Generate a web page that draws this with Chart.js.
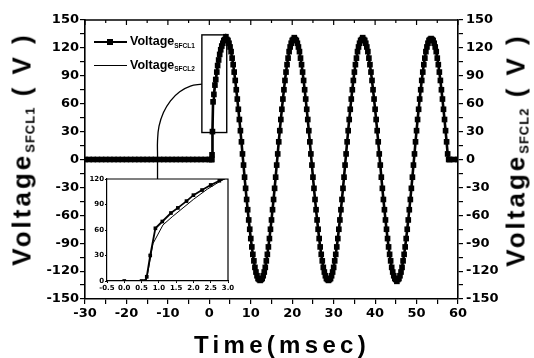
<!DOCTYPE html>
<html>
<head>
<meta charset="utf-8">
<script src="https://cdn.jsdelivr.net/npm/chart.js@4.4.1/dist/chart.umd.min.js"></script>
<style>
html,body{margin:0;padding:0;background:#fff;}
#wrap{position:relative;width:534px;height:358px;overflow:hidden;background:#fff;font-family:"Liberation Sans",Arial,sans-serif;color:#000;}
canvas{position:absolute;display:block;}
#main{left:0;top:0;}
#inset{left:84px;top:170px;}
.rt{position:absolute;white-space:nowrap;font-weight:bold;font-size:26px;letter-spacing:3px;line-height:26px;transform:translate(-50%,-50%) rotate(-90deg);}
.rt .sub{font-size:13px;letter-spacing:1px;position:relative;top:4px;}
#xt{position:absolute;left:282px;top:333px;transform:translateX(-50%);white-space:nowrap;font-weight:bold;font-size:24px;letter-spacing:4.3px;line-height:24px;}
.lg{position:absolute;left:94px;width:120px;height:16px;}
.lg .ln{position:absolute;left:0;width:33px;background:#000;}
.lg .mk{position:absolute;left:13px;width:6px;height:6px;background:#000;}
.lg .tx{position:absolute;left:36px;white-space:nowrap;font-weight:bold;font-size:12.5px;line-height:12.5px;}
.lg .tx span{font-size:6.5px;position:relative;top:2.5px;}
</style>
</head>
<body>
<div id="wrap">
  <canvas id="main" width="534" height="358"></canvas>
  <canvas id="inset" width="152" height="124"></canvas>
  <div class="lg" style="top:34px"><div class="ln" style="top:7px;height:2px"></div><div class="mk" style="top:5px"></div><div class="tx" style="top:1.4px">Voltage<span>SFCL1</span></div></div>
  <div class="lg" style="top:57px"><div class="ln" style="top:7.5px;height:1px"></div><div class="tx" style="top:1.9px">Voltage<span>SFCL2</span></div></div>
  <div class="rt" style="left:24px;top:149px">Voltage<span class="sub">SFCL1</span> ( V )</div>
  <div class="rt" style="left:518px;top:150px">Voltage<span class="sub">SFCL2</span> ( V )</div>
  <div id="xt">Time(msec)</div>
</div>
<script>
// ---------- data ----------
const timeSFCL1 = [
  -30,-29,-28,-27,-26,-25,-24,-23,-22,-21,-20,-19,-18,-17,-16,-15,-14,-13,-12,-11,-10,-9,-8,-7,-6,-5,-4,-3,-2,-1,0,0.5,0.6,
  0.65,0.75,0.9,1.1,1.35,1.55,1.8,2,2.25,2.5,2.75,3,3.25,3.5,3.75,
  4,4.25,4.5,4.75,5,5.25,5.5,5.75,6,6.25,6.5,6.75,7,7.25,7.5,7.75,
  8,8.25,8.5,8.75,9,9.25,9.5,9.75,10,10.25,10.5,10.75,11,11.25,11.5,11.75,
  12,12.25,12.5,12.75,13,13.25,13.5,13.75,14,14.25,14.5,14.75,15,15.25,15.5,15.75,
  16,16.25,16.5,16.75,17,17.25,17.5,17.75,18,18.25,18.5,18.75,19,19.25,19.5,19.75,
  20,20.25,20.5,20.75,21,21.25,21.5,21.75,22,22.25,22.5,22.75,23,23.25,23.5,23.75,
  24,24.25,24.5,24.75,25,25.25,25.5,25.75,26,26.25,26.5,26.75,27,27.25,27.5,27.75,
  28,28.25,28.5,28.75,29,29.25,29.5,29.75,30,30.25,30.5,30.75,31,31.25,31.5,31.75,
  32,32.25,32.5,32.75,33,33.25,33.5,33.75,34,34.25,34.5,34.75,35,35.25,35.5,35.75,
  36,36.25,36.5,36.75,37,37.25,37.5,37.75,38,38.25,38.5,38.75,39,39.25,39.5,39.75,
  40,40.25,40.5,40.75,41,41.25,41.5,41.75,42,42.25,42.5,42.75,43,43.25,43.5,43.75,
  44,44.25,44.5,44.75,45,45.25,45.5,45.75,46,46.25,46.5,46.75,47,47.25,47.5,47.75,
  48,48.25,48.5,48.75,49,49.25,49.5,49.75,50,50.25,50.5,50.75,51,51.25,51.5,51.75,
  52,52.25,52.5,52.75,53,53.25,53.5,53.75,54,54.25,54.5,54.75,55,55.25,55.5,55.75,
  56,56.25,56.5,56.75,57,57.25,57.5,57.75,
  58,59,60
];
const voltageSFCL1 = [
  0,0,0,0,0,0,0,0,0,0,0,0,0,0,0,0,0,0,0,0,0,0,0,0,0,0,0,0,0,0,0,0,0,
  5,30,62,70,80,86,94,101,107,113,118,122,125,128,129,
  132,129,128,125,121,116,109,102,94,85,75,65,54,43,31,19,6,-6,-19,-31,-43,-54,-65,-75,-85,-94,-102,-109,-116,-121,-125,-128,-129,-130,
  -129,-128,-125,-121,-116,-109,-102,-94,-85,-75,-65,-54,-43,-31,-19,-6,6,19,31,43,54,65,75,85,94,102,109,116,121,125,128,129,
  131,129,128,125,121,116,109,102,94,85,75,65,54,43,31,19,6,-6,-19,-31,-43,-54,-65,-75,-85,-94,-102,-109,-116,-121,-125,-128,-129,-130,
  -129,-128,-125,-121,-116,-109,-102,-94,-85,-75,-65,-54,-43,-31,-19,-6,6,19,31,43,54,65,75,85,94,102,109,116,121,125,128,129,
  131,129,128,125,121,116,109,102,94,85,75,65,54,43,31,19,6,-6,-19,-31,-43,-54,-65,-75,-85,-94,-102,-109,-116,-121,-125,-128,-129,-131,
  -129,-128,-125,-121,-116,-109,-102,-94,-85,-75,-65,-54,-43,-31,-19,-6,6,19,31,43,54,65,75,85,94,102,109,116,121,125,128,129,
  130,129,128,125,121,116,109,102,94,85,75,65,54,43,31,19,6,
  0,
  0,0,0
];
const timeSFCL2 = [-30,0.6,0.65,0.83,1.12,1.4,1.7,2,2.4,2.8,3,4,
  5,6,7,8,9,10,11,12,13,14,15,16,17,18,19,20,21,22,23,24,25,26,27,28,29,30,
  31,32,33,34,35,36,37,38,39,40,41,42,43,44,45,46,47,48,49,50,51,52,53,54,55,56,57,
  57.6,58,60];
const voltageSFCL2 = [0,0,3,44,66,76,86,96,108,118,122,131,
  121,94,54,6,-43,-85,-116,-129,-125,-102,-65,-19,31,75,109,128,128,109,75,31,-19,-65,-102,-125,-129,-116,
  -85,-43,6,54,94,121,131,121,94,54,6,-43,-85,-116,-129,-125,-102,-65,-19,31,75,109,128,128,109,75,31,
  2,0,0];

// zoom box (data space) and the curved connector to the inset
const zoomBoxTime = [-1.8, 4.2];
const zoomBoxVolt = [29, 134];
const connectorTime = [-1.8,-4.57,-7.15,-9.37,-11.07,-12.14,-12.5,-12.5,-12.5];
const connectorVolt = [81,78.9,72.8,63.1,50.5,35.8,20,5,-21];

// tick values / labels
const xTickValues = [-30,-25,-20,-15,-10,-5,0,5,10,15,20,25,30,35,40,45,50,55,60];
const xTickLabels = [-30,-20,-10,0,10,20,30,40,50,60];
const yTickValues = [-150,-135,-120,-105,-90,-75,-60,-45,-30,-15,0,15,30,45,60,75,90,105,120,135,150];
const yTickLabels = [-150,-120,-90,-60,-30,0,30,60,90,120,150];
const insetXTicks = [-0.5,0,0.5,1,1.5,2,2.5,3];
const insetXLabels = ['-0.5','0.0','0.5','1.0','1.5','2.0','2.5','3.0'];
const insetYTicks = [0,30,60,90,120];
const insetYLabels = ['0','30','60','90','120'];

// ---------- charts ----------
const TICKFONT = '"DejaVu Sans", sans-serif';
const pts = (ts, vs) => ts.map((t, i) => ({x: t, y: vs[i]}));
const setTicks = vals => s => { s.ticks = vals.map(v => ({value: v})); };

const mainDecor = {
  id: 'mainDecor',
  beforeDatasetsDraw(chart) {
    const {ctx, scales: {x, y}} = chart;
    ctx.save();
    ctx.strokeStyle = '#000';
    ctx.lineWidth = 1.4;
    const x0 = x.getPixelForValue(zoomBoxTime[0]), x1 = x.getPixelForValue(zoomBoxTime[1]);
    const y0 = y.getPixelForValue(zoomBoxVolt[0]), y1 = y.getPixelForValue(zoomBoxVolt[1]);
    ctx.strokeRect(x0, y1, x1 - x0, y0 - y1);
    ctx.restore();
  },
  afterDraw(chart) {
    const {ctx, chartArea: a, scales: {x}} = chart;
    ctx.save();
    ctx.strokeStyle = '#000';
    ctx.lineWidth = 1.6;
    ctx.beginPath(); ctx.moveTo(a.left, a.top); ctx.lineTo(a.right, a.top); ctx.stroke();
    ctx.lineWidth = 1.2;
    xTickValues.forEach(v => {
      const px = x.getPixelForValue(v);
      ctx.beginPath(); ctx.moveTo(px, a.top); ctx.lineTo(px, a.top + (xTickLabels.includes(v) ? 5 : 3)); ctx.stroke();
    });
    ctx.restore();
  }
};

const axisCommon = {
  grid: {drawOnChartArea: false, color: '#000', tickLength: 5, lineWidth: 1.2},
  border: {color: '#000', width: 1.6}
};

new Chart(document.getElementById('main'), {
  type: 'line',
  data: {datasets: [
    {label: 'Voltage SFCL1', data: pts(timeSFCL1, voltageSFCL1), yAxisID: 'y',
     borderColor: '#000', backgroundColor: '#000', borderWidth: 2.6, tension: 0,
     pointStyle: 'rect', pointRadius: 4, pointBorderWidth: 0, pointBackgroundColor: '#000'},
    {label: 'Voltage SFCL2', data: pts(timeSFCL2, voltageSFCL2), yAxisID: 'y2',
     borderColor: '#000', borderWidth: 1, pointRadius: 0, tension: 0},
    {label: 'connector', data: pts(connectorTime, connectorVolt), yAxisID: 'y',
     borderColor: '#000', borderWidth: 1.3, pointRadius: 0, tension: 0.4}
  ]},
  options: {
    responsive: false, animation: false, events: [],
    layout: {padding: {top: 20, left: 0, right: 0, bottom: 0}, autoPadding: false},
    plugins: {legend: {display: false}, tooltip: {enabled: false}},
    scales: {
      x: {type: 'linear', position: 'bottom', min: -30, max: 60,
        afterFit(s) { s.height = 59; }, afterBuildTicks: setTicks(xTickValues),
        ticks: {autoSkip: false, maxRotation: 0, padding: 2, color: '#000',
          font: {family: TICKFONT, size: 13, weight: 'bold'},
          callback: v => xTickLabels.includes(v) ? String(v) : ''},
        ...axisCommon},
      y: {type: 'linear', position: 'left', min: -150, max: 150,
        afterFit(s) { s.width = 85; }, afterBuildTicks: setTicks(yTickValues),
        ticks: {autoSkip: false, padding: 1, color: '#000',
          font: {family: TICKFONT, size: 13, weight: 'bold'},
          callback: v => yTickLabels.includes(v) ? String(v) : ''},
        ...axisCommon},
      y2: {type: 'linear', position: 'right', min: -150, max: 150,
        afterFit(s) { s.width = 76; }, afterBuildTicks: setTicks(yTickValues),
        ticks: {autoSkip: false, padding: 3, color: '#000',
          font: {family: TICKFONT, size: 13, weight: 'bold'},
          callback: v => yTickLabels.includes(v) ? String(v) : ''},
        ...axisCommon}
    }
  },
  plugins: [mainDecor]
});

const insetFrame = {
  id: 'insetFrame',
  afterDraw(chart) {
    const {ctx, chartArea: a} = chart;
    ctx.save();
    ctx.strokeStyle = '#000';
    ctx.lineWidth = 1.2;
    ctx.beginPath();
    ctx.moveTo(a.left, a.top); ctx.lineTo(a.right, a.top); ctx.lineTo(a.right, a.bottom);
    ctx.stroke();
    ctx.restore();
  }
};
const insetAxis = {
  grid: {drawOnChartArea: false, color: '#000', tickLength: 2, lineWidth: 1},
  border: {color: '#000', width: 1.2}
};
new Chart(document.getElementById('inset'), {
  type: 'line',
  data: {datasets: [
    {label: 'Voltage SFCL1', data: pts(timeSFCL1, voltageSFCL1),
     borderColor: '#000', backgroundColor: '#000', borderWidth: 1.8, tension: 0,
     pointStyle: 'rect', pointRadius: 2.6, pointBorderWidth: 0, pointBackgroundColor: '#000'},
    {label: 'Voltage SFCL2', data: pts(timeSFCL2, voltageSFCL2),
     borderColor: '#000', borderWidth: 1, pointRadius: 0, tension: 0}
  ]},
  options: {
    responsive: false, animation: false, events: [],
    layout: {padding: {top: 9, right: 8, left: 0, bottom: 0}, autoPadding: false},
    plugins: {legend: {display: false}, tooltip: {enabled: false}},
    scales: {
      x: {type: 'linear', min: -0.5, max: 3,
        afterFit(s) { s.height = 13; }, afterBuildTicks: setTicks(insetXTicks),
        ticks: {autoSkip: false, maxRotation: 0, padding: 1, color: '#000',
          font: {family: TICKFONT, size: 7, weight: 'bold'},
          callback: (v, i) => insetXLabels[i]},
        ...insetAxis},
      y: {type: 'linear', min: 0, max: 120,
        afterFit(s) { s.width = 23; }, afterBuildTicks: setTicks(insetYTicks),
        ticks: {autoSkip: false, padding: 1, color: '#000',
          font: {family: TICKFONT, size: 7, weight: 'bold'},
          callback: (v, i) => insetYLabels[i]},
        ...insetAxis}
    }
  },
  plugins: [insetFrame]
});
</script>
</body>
</html>
